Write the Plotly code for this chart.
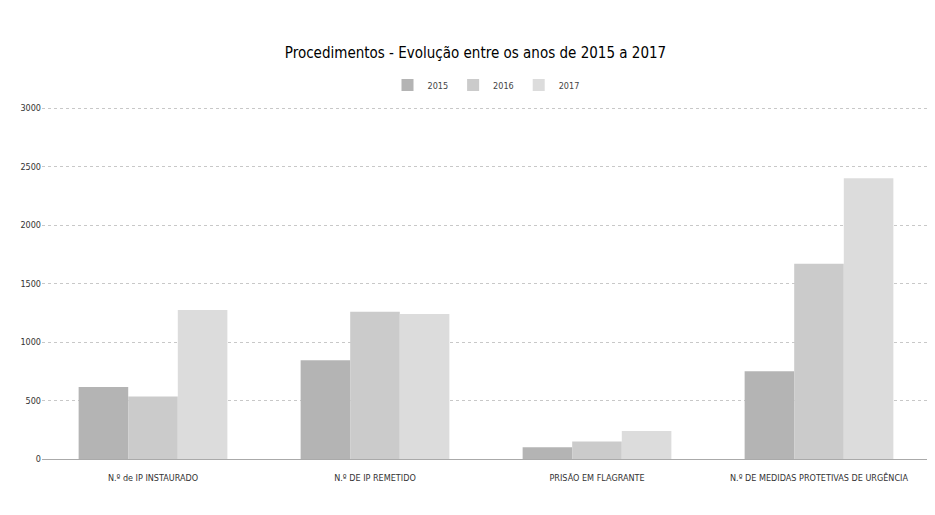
import plotly.graph_objects as go

categories = ["N.º de IP INSTAURADO", "N.º DE IP REMETIDO", "PRISÃO EM FLAGRANTE",
              "N.º DE MEDIDAS PROTETIVAS DE URGÊNCIA"]
years = ["2015", "2016", "2017"]
v2015 = [615, 845, 100, 750]
v2016 = [535, 1260, 150, 1670]
v2017 = [1275, 1240, 240, 2400]
colors = ["#b4b4b4", "#cbcbcb", "#dcdcdc"]
tick_vals = [0, 500, 1000, 1500, 2000, 2500, 3000]

fig = go.Figure()
for name, vals, c in zip(years, [v2015, v2016, v2017], colors):
    fig.add_trace(go.Bar(x=categories, y=vals, name=name, marker=dict(color=c, line=dict(width=0))))

fig.update_layout(
    width=935, height=515,
    paper_bgcolor="white", plot_bgcolor="white",
    margin=dict(l=29, r=13, t=99, b=64),
    barmode="group", bargap=0.33, bargroupgap=0,
    font=dict(family="DejaVu Sans Condensed, Liberation Sans Narrow, sans-serif", color="#333"),
    title=dict(text="Procedimentos - Evolução entre os anos de 2015 a 2017",
               x=0.5, xanchor="center", y=0.914, yanchor="middle",
               font=dict(size=15, color="#000")),
    legend=dict(orientation="h", x=0.5, xanchor="center", y=1.0625, yanchor="middle",
                font=dict(size=9, color="#444"), itemwidth=30, traceorder="normal"),
    xaxis=dict(showline=True, linecolor="#aaa", linewidth=1, ticks="",
               ticklabelstandoff=10, tickfont=dict(size=9, color="#333")),
    yaxis=dict(range=[0, 3010], tickvals=tick_vals, showgrid=True,
               gridcolor="#c8c8c8", griddash="dot", zeroline=False,
               tickfont=dict(size=9, color="#333")),
)
fig.write_html("out.html")
